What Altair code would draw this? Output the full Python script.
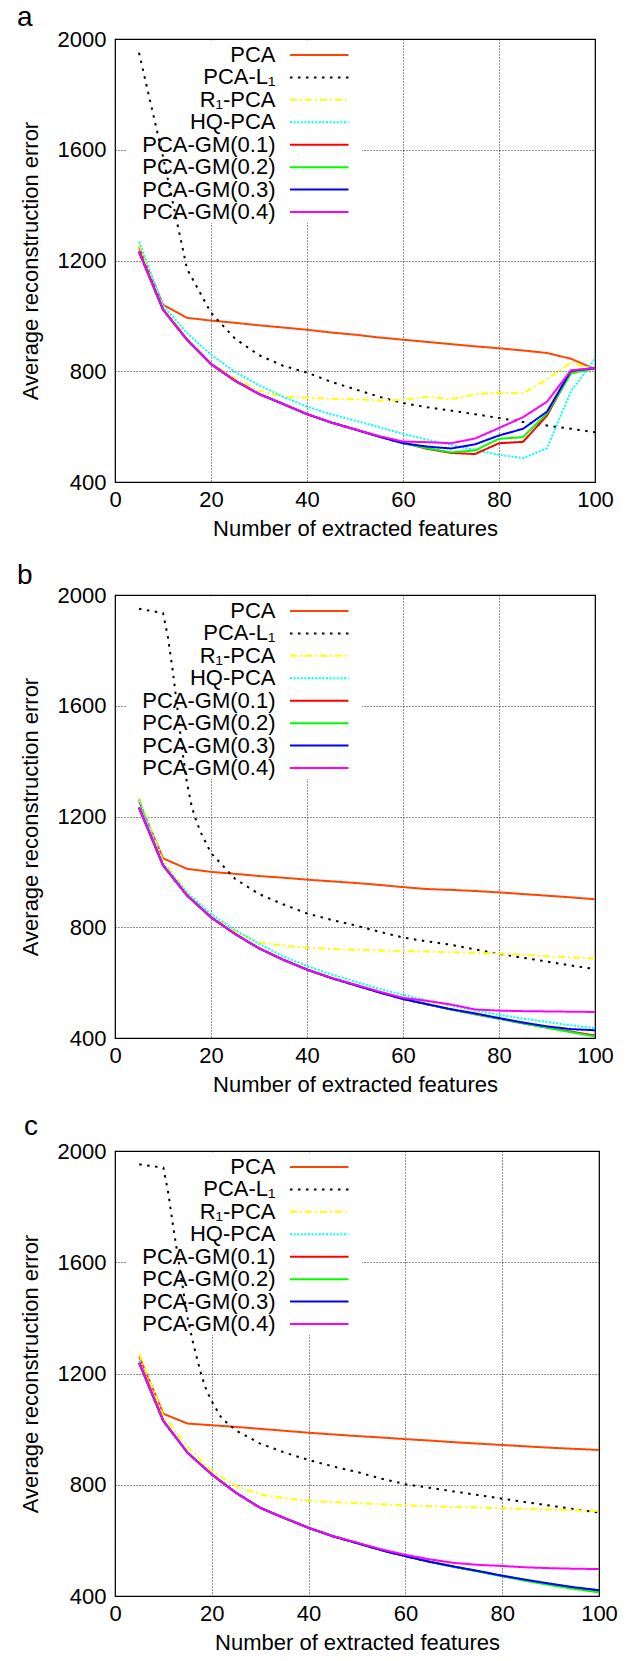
import altair as alt
import pandas as pd

FONT = "Liberation Sans"

# ---------------- data ----------------
X = [5, 10, 15, 20, 25, 30, 35, 40, 45, 50, 55, 60, 65, 70, 75, 80, 85, 90, 95, 100]
XTICKS = [0, 20, 40, 60, 80, 100]
YTICKS = [400, 800, 1200, 1600, 2000]

METHODS = ["PCA", "PCA-L\u2081", "R\u2081-PCA", "HQ-PCA",
           "PCA-GM(0.1)", "PCA-GM(0.2)", "PCA-GM(0.3)", "PCA-GM(0.4)"]
COLORS = ["#ff4500", "#000000", "#ffff00", "#00ffff",
          "#ff0000", "#00ff00", "#0000ff", "#ff00ff"]
DASHES = [[1, 0], [2.5, 5.5], [7, 3, 2, 3], [2, 1.6],
          [1, 0], [1, 0], [1, 0], [1, 0]]

# panel a
A_PCA = [1248, 1040, 993, 983, 975, 966, 958, 950, 940, 932, 922, 914, 906, 898, 890, 883, 875, 866, 845, 808]
A_L1_X = X
A_L1 = [1950, 1575, 1170, 1011, 918, 858, 820, 795, 762, 735, 708, 685, 670, 658, 645, 631, 617, 604, 592, 580]
A_R1 = [1258, 1032, 920, 830, 774, 730, 708, 704, 700, 699, 694, 697, 708, 699, 716, 722, 720, 771, 832, 806]
A_HQ = [1268, 1038, 938, 860, 798, 750, 708, 672, 645, 622, 598, 574, 553, 534, 516, 498, 486, 522, 728, 845]
A_GM1 = [1232, 1023, 914, 826, 766, 718, 682, 645, 615, 590, 564, 542, 520, 505, 501, 540, 545, 640, 798, 810]
A_GM2 = [1232, 1023, 914, 826, 766, 718, 682, 645, 615, 590, 564, 540, 522, 507, 514, 556, 562, 648, 792, 811]
A_GM3 = [1232, 1023, 914, 826, 766, 718, 682, 645, 615, 590, 564, 540, 528, 521, 536, 568, 592, 654, 802, 811]
A_GM4 = [1232, 1023, 914, 826, 766, 718, 682, 645, 615, 590, 566, 546, 544, 540, 557, 595, 634, 690, 803, 812]

# panel b
B_PCA = [1255, 1049, 1011, 1000, 993, 985, 979, 972, 966, 960, 953, 945, 938, 935, 931, 926, 920, 914, 908, 901]
B_L1_X = [5, 10, 11, 12, 13, 14, 15, 16, 17, 18, 20, 25, 30, 35, 40, 45, 50, 55, 60, 65, 70, 75, 80, 85, 90, 95, 100]
B_L1 = [1950, 1935, 1850, 1730, 1590, 1440, 1320, 1235, 1180, 1138, 1068, 975, 920, 883, 850, 827, 807, 784, 763, 749, 737, 720, 704, 690, 676, 662, 649]
B_R1 = [1268, 1040, 925, 842, 785, 746, 734, 726, 722, 719, 716, 714, 712, 710, 707, 705, 700, 695, 691, 687]
B_HQ = [1262, 1030, 925, 848, 790, 740, 695, 660, 630, 604, 578, 556, 536, 517, 500, 484, 470, 458, 446, 436]
B_GM1 = [1232, 1024, 915, 836, 776, 724, 683, 647, 617, 591, 565, 541, 522, 503, 486, 470, 453, 438, 423, 409]
B_GM2 = [1232, 1024, 915, 836, 776, 724, 683, 647, 617, 591, 565, 541, 522, 503, 486, 470, 453, 437, 421, 406]
B_GM3 = [1232, 1024, 915, 836, 776, 724, 683, 647, 617, 591, 565, 541, 522, 504, 489, 472, 456, 442, 432, 428]
B_GM4 = [1232, 1024, 915, 836, 776, 724, 683, 647, 618, 593, 568, 545, 534, 521, 503, 499, 497, 496, 495, 494]

# panel c
C_PCA = [1262, 1055, 1020, 1014, 1008, 1001, 994, 987, 981, 975, 970, 964, 959, 953, 948, 943, 938, 933, 929, 925]
C_L1_X = [5, 10, 11, 12, 13, 14, 15, 16, 17, 18, 19, 20, 22, 25, 30, 35, 40, 45, 50, 55, 60, 65, 70, 75, 80, 85, 90, 95, 100]
C_L1 = [1952, 1940, 1850, 1730, 1620, 1510, 1400, 1320, 1250, 1185, 1135, 1100, 1040, 995, 948, 916, 889, 866, 846, 822, 802, 789, 776, 763, 750, 737, 725, 712, 700]
C_R1 = [1271, 1047, 935, 849, 795, 765, 751, 742, 738, 734, 730, 726, 723, 720, 718, 716, 713, 711, 708, 705]
C_HQ = [1245, 1030, 916, 838, 772, 718, 681, 646, 616, 591, 566, 544, 524, 506, 490, 473, 458, 444, 431, 421]
C_GM1 = [1238, 1029, 915, 837, 771, 717, 680, 645, 615, 590, 565, 543, 523, 505, 489, 472, 456, 442, 428, 417]
C_GM2 = [1238, 1029, 915, 837, 771, 717, 680, 645, 615, 590, 565, 543, 523, 505, 488, 471, 454, 439, 425, 413]
C_GM3 = [1238, 1029, 915, 837, 771, 717, 680, 645, 615, 590, 565, 543, 523, 506, 490, 473, 458, 444, 431, 421]
C_GM4 = [1238, 1029, 915, 837, 771, 717, 680, 645, 616, 592, 568, 548, 532, 519, 512, 508, 503, 500, 498, 497]

PANELS = {
    "a": [(A_PCA, X), (A_L1, A_L1_X), (A_R1, X), (A_HQ, X), (A_GM1, X), (A_GM2, X), (A_GM3, X), (A_GM4, X)],
    "b": [(B_PCA, X), (B_L1, B_L1_X), (B_R1, X), (B_HQ, X), (B_GM1, X), (B_GM2, X), (B_GM3, X), (B_GM4, X)],
    "c": [(C_PCA, X), (C_L1, C_L1_X), (C_R1, X), (C_HQ, X), (C_GM1, X), (C_GM2, X), (C_GM3, X), (C_GM4, X)],
}

# ---------------- chart ----------------
color_enc = alt.Color("method:N", scale=alt.Scale(domain=METHODS, range=COLORS), legend=None)
dash_enc = alt.StrokeDash("method:N", scale=alt.Scale(domain=METHODS, range=DASHES), legend=None)
rank_off = alt.YOffset("rank:Q", scale=alt.Scale(domain=[0, 7], range=[0, 157]))

leg_df = pd.DataFrame({"method": METHODS, "rank": list(range(len(METHODS)))})


def build_panel(letter, width, height, letter_dx, letter_dy):
    rows = []
    for method, (ys, xs) in zip(METHODS, PANELS[letter]):
        for xv, yv in zip(xs, ys):
            rows.append({"method": method, "features": xv, "error": yv})
    df = pd.DataFrame(rows)

    mask = alt.Chart(pd.DataFrame({"k": [0]})).mark_rect(fill="white").encode(
        x=alt.value(12), x2=alt.value(247), y=alt.value(1.5), y2=alt.value(184)
    )
    leg_text = alt.Chart(leg_df).mark_text(
        align="right", baseline="middle", fontSize=22, font=FONT, color="black"
    ).encode(x=alt.value(160.5), y=alt.value(16), yOffset=rank_off, text="method:N")
    leg_rule = alt.Chart(leg_df).mark_rule(strokeWidth=2, strokeCap="butt").encode(
        x=alt.value(175), x2=alt.value(233.5), y=alt.value(16), yOffset=rank_off,
        color=color_enc, strokeDash=dash_enc
    )
    lines = alt.Chart(df).mark_line(strokeWidth=2, strokeCap="butt").encode(
        x=alt.X("features:Q", scale=alt.Scale(domain=[0, 100], nice=False),
                axis=alt.Axis(values=XTICKS, title="Number of extracted features", grid=True,
                              labelPadding=7, titlePadding=8, format="d")),
        y=alt.Y("error:Q", scale=alt.Scale(domain=[400, 2000], nice=False),
                axis=alt.Axis(values=YTICKS, title="Average reconstruction error", grid=True,
                              labelPadding=9, titlePadding=15, format="d")),
        color=color_enc,
        strokeDash=dash_enc,
    )
    label = alt.Chart(pd.DataFrame({"panel": [letter]})).mark_text(
        align="left", baseline="alphabetic", fontSize=28, font=FONT, color="black"
    ).encode(x=alt.value(letter_dx), y=alt.value(letter_dy), text="panel:N")

    return alt.layer(mask, leg_text, leg_rule, lines, label).properties(width=width, height=height)


pa = build_panel("a", 480, 443, -98, -13)
pb = build_panel("b", 480, 443, -98, -11)
pc = build_panel("c", 484, 445, -91, -16)

chart = alt.vconcat(pa, pb, pc, spacing=113, bounds="flush").properties(
    padding={"left": 16, "top": 3, "right": 5, "bottom": 5},
    background="white",
).configure_view(
    stroke="black", strokeWidth=1.2
).configure_axis(
    labelFont=FONT, titleFont=FONT, labelFontSize=22, titleFontSize=22,
    titleFontWeight="normal", labelColor="black", titleColor="black",
    grid=True, gridColor="#000000", gridDash=[1, 2], gridWidth=1, gridOpacity=0.85,
    ticks=False, tickSize=0, domain=False, labelFlush=False, labelOverlap=False,
)

chart.save("out.html", embed_options={"renderer": "svg", "actions": False})
